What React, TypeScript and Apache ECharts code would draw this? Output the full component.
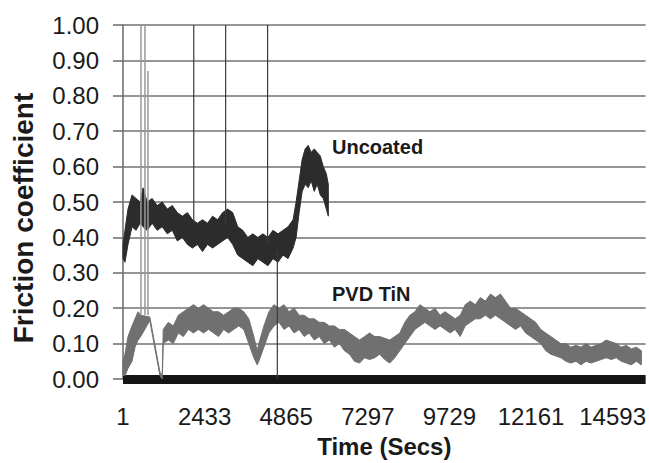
import React, { useEffect, useRef } from "react";
import * as echarts from "echarts";

// ---- axis ticks ----
const xTickLabels = [1, 2433, 4865, 7297, 9729, 12161, 14593];
const yTickLabels = ["0.00", "0.10", "0.20", "0.30", "0.40", "0.50", "0.60", "0.70", "0.80", "0.90", "1.00"];

// ---- PVD TiN (time in secs, lower / upper edge of the noisy trace) ----
const pvdT = [
  0, 60, 150, 270, 360, 450, 530, 800, 1100, 1170, 1200,
  1350, 1500, 1650, 1800, 1950, 2100, 2250, 2400, 2550, 2700, 2850, 3000, 3150, 3300, 3450, 3600, 3750, 3900,
  4000,
  4050, 4200, 4350, 4500, 4650, 4800, 4950, 5100, 5250, 5400, 5550, 5700, 5850, 6000,
  6150, 6300, 6450, 6600, 6750, 6900, 7050, 7200, 7350, 7500, 7650, 7800, 7950,
  8100, 8250, 8400, 8550, 8700, 8850, 9000, 9150, 9300, 9450, 9600, 9750, 9900,
  10050, 10200, 10350, 10500, 10650, 10800, 10950, 11100, 11250, 11400, 11550, 11700, 11850,
  12000, 12150, 12300, 12450, 12600, 12750, 12900, 13050, 13200, 13350, 13500, 13650, 13800,
  13950, 14100, 14250, 14400, 14550, 14700, 14850, 15000, 15150, 15300, 15450,
];
const pvdLow = [
  0.01, 0.01, 0.03, 0.05, 0.09, 0.11, 0.12, 0.165, 0.01, 0, 0.10,
  0.11, 0.10, 0.13, 0.12, 0.14, 0.13, 0.14, 0.13, 0.14, 0.13, 0.12, 0.14, 0.13, 0.14, 0.15, 0.14, 0.10, 0.06,
  0.04,
  0.05, 0.09, 0.13, 0.15, 0.16, 0.14, 0.15, 0.13, 0.14, 0.12, 0.13, 0.11, 0.12, 0.10,
  0.11, 0.09, 0.10, 0.08, 0.07, 0.05, 0.045, 0.06, 0.055, 0.06, 0.07, 0.055, 0.045,
  0.06, 0.08, 0.10, 0.12, 0.14, 0.15, 0.16, 0.15, 0.14, 0.15, 0.14, 0.13, 0.14,
  0.12, 0.15, 0.16, 0.17, 0.17, 0.18, 0.17, 0.18, 0.17, 0.16, 0.15, 0.14, 0.15,
  0.13, 0.12, 0.11, 0.10, 0.08, 0.07, 0.065, 0.06, 0.05, 0.045, 0.05, 0.04, 0.05,
  0.045, 0.05, 0.055, 0.06, 0.055, 0.06, 0.05, 0.045, 0.04, 0.05, 0.04,
];
const pvdHigh = [
  0.05, 0.07, 0.12, 0.15, 0.17, 0.19, 0.18, 0.175, 0.02, 0.01, 0.14,
  0.16, 0.15, 0.18, 0.19, 0.20, 0.21, 0.20, 0.21, 0.20, 0.19, 0.19, 0.18, 0.19, 0.20, 0.20, 0.19, 0.17, 0.12,
  0.08,
  0.10, 0.15, 0.19, 0.21, 0.20, 0.21, 0.19, 0.20, 0.18, 0.18, 0.17, 0.17, 0.16, 0.16,
  0.15, 0.15, 0.14, 0.14, 0.13, 0.12, 0.11, 0.12, 0.13, 0.12, 0.12, 0.115, 0.11,
  0.12, 0.13, 0.16, 0.18, 0.19, 0.21, 0.20, 0.19, 0.20, 0.18, 0.19, 0.18, 0.17,
  0.18, 0.21, 0.22, 0.21, 0.23, 0.22, 0.24, 0.23, 0.24, 0.22, 0.20, 0.20, 0.19,
  0.18, 0.17, 0.16, 0.14, 0.13, 0.12, 0.11, 0.10, 0.10, 0.09, 0.095, 0.09, 0.10,
  0.09, 0.095, 0.10, 0.11, 0.105, 0.10, 0.09, 0.095, 0.085, 0.09, 0.08,
];
const pvdSpikeT = [536, 655, 745];
const pvdSpikeFrom = [0.18, 0.18, 0.18];
const pvdSpikeTo = [1.0, 1.0, 0.87];

// ---- Uncoated ----
const uncT = [
  0, 60, 150, 270, 390, 510, 600, 720, 870,
  1020, 1170, 1320, 1470, 1620, 1770, 1920, 2070, 2220, 2370, 2520, 2670, 2820, 2970,
  3120, 3270, 3420, 3570, 3720, 3870, 4020, 4170, 4320, 4470, 4620, 4770, 4920, 5070,
  5160, 5250, 5340, 5430, 5520, 5610, 5700, 5790, 5880, 5970, 6060,
  6120,
];
const uncLow = [
  0.34, 0.33, 0.38, 0.43, 0.42, 0.44, 0.43, 0.42, 0.44,
  0.42, 0.43, 0.41, 0.42, 0.39, 0.40, 0.38, 0.37, 0.38, 0.36, 0.38, 0.37, 0.38, 0.39,
  0.40, 0.38, 0.35, 0.34, 0.33, 0.32, 0.34, 0.33, 0.32, 0.34, 0.33, 0.35, 0.34, 0.37,
  0.40, 0.47, 0.53, 0.55, 0.54, 0.56, 0.53, 0.55, 0.52, 0.51, 0.48,
  0.46,
];
const uncHigh = [
  0.38, 0.42, 0.48, 0.52, 0.51, 0.50, 0.54, 0.50, 0.51,
  0.49, 0.50, 0.48, 0.49, 0.47, 0.46, 0.47, 0.45, 0.44, 0.45, 0.44, 0.46, 0.45, 0.47,
  0.48, 0.47, 0.43, 0.42, 0.40, 0.41, 0.40, 0.41, 0.40, 0.42, 0.41, 0.42, 0.43, 0.45,
  0.50, 0.56, 0.62, 0.65, 0.66, 0.64, 0.65, 0.64, 0.63, 0.60, 0.58,
  0.55,
];
const uncSpikeT = [2110, 3060, 4310, 4600];
const uncSpikeFrom = [0.44, 0.44, 0.38, 0.36];
const uncSpikeTo = [1.0, 1.0, 1.0, 0.0];

const FONT = '"Liberation Sans", Arial, Helvetica, sans-serif';
const PVD_COLOR = "#707070";
const UNC_COLOR = "#2c2c2c";

// Noisy trace drawn as a filled band between its lower and upper edges,
// built from the data through the axes' scales (api.coord).
function bandSeries(id: string, t: number[], lo: number[], hi: number[], color: string) {
  const data = t.map((x, i) => [x, lo[i], hi[i]]);
  return {
    type: "custom",
    id,
    silent: true,
    data,
    encode: { x: 0, y: [1, 2] },
    renderItem: (params: any, api: any) => {
      if (params.dataIndex !== 0) return null;
      const top = data.map((d) => api.coord([d[0], d[2]]));
      const bottom = data.map((d) => api.coord([d[0], d[1]])).reverse();
      return {
        type: "polygon",
        shape: { points: top.concat(bottom) },
        style: { fill: color, stroke: color, lineWidth: 1, lineJoin: "round" },
      };
    },
  };
}

function spikeSeries(id: string, t: number[], from: number[], to: number[], color: string, width: number) {
  return t.map((x, i) => ({
    type: "line",
    id: id + i,
    symbol: "none",
    silent: true,
    data: [
      [x, from[i]],
      [x, to[i]],
    ],
    lineStyle: { color, width },
  }));
}

export default function App() {
  const ref = useRef<HTMLDivElement>(null);

  useEffect(() => {
    if (!ref.current) return;
    const chart = echarts.init(ref.current, null, { renderer: "svg" });
    const option: any = {
      animation: false,
      backgroundColor: "#ffffff",
      grid: { left: 123, right: 3, top: 25, bottom: 80.5, containLabel: false },
      xAxis: {
        type: "value",
        min: 1,
        max: 15576,
        interval: 2432,
        offset: 5,
        axisLine: { show: true, lineStyle: { color: "#151515", width: 9, cap: "butt" } },
        axisTick: { show: false },
        splitLine: { show: false },
        axisLabel: {
          margin: 20,
          fontSize: 24,
          fontFamily: FONT,
          color: "#1a1a1a",
          showMaxLabel: false,
          formatter: (v: number) => {
            const r = Math.round(v);
            return xTickLabels.includes(r) ? String(r) : "";
          },
        },
        name: "Time (Secs)",
        nameLocation: "middle",
        nameGap: 50,
        nameTextStyle: { fontSize: 24, fontWeight: "bold", fontFamily: FONT, color: "#1a1a1a" },
      },
      yAxis: {
        type: "value",
        min: 0,
        max: 1,
        interval: 0.1,
        axisLine: { show: true, lineStyle: { color: "#727272", width: 1.6 } },
        axisTick: { show: true, length: 10, lineStyle: { color: "#727272", width: 1.6 } },
        splitLine: { show: true, lineStyle: { color: "#727272", width: 1.6 } },
        axisLabel: {
          margin: 24,
          fontSize: 24,
          fontFamily: FONT,
          color: "#1a1a1a",
          formatter: (v: number) => yTickLabels[Math.round(v * 10)] ?? "",
        },
      },
      series: [
        bandSeries("pvd", pvdT, pvdLow, pvdHigh, PVD_COLOR),
        bandSeries("unc", uncT, uncLow, uncHigh, UNC_COLOR),
        ...spikeSeries("uncSpike", uncSpikeT, uncSpikeFrom, uncSpikeTo, "#3a3a3a", 1.2),
        ...spikeSeries("pvdSpike", pvdSpikeT, pvdSpikeFrom, pvdSpikeTo, "#9a9a9a", 1.5),
      ],
      graphic: [
        {
          type: "text",
          x: 23,
          y: 218,
          rotation: Math.PI / 2,
          style: {
            text: "Friction coefficient",
            font: `bold 28px ${FONT}`,
            fill: "#1a1a1a",
            textAlign: "center",
            textVerticalAlign: "middle",
          },
        },
        {
          type: "text",
          left: 332,
          top: 137,
          style: { text: "Uncoated", font: `bold 20px ${FONT}`, fill: "#1a1a1a" },
        },
        {
          type: "text",
          left: 332,
          top: 284,
          style: { text: "PVD TiN", font: `bold 20px ${FONT}`, fill: "#1a1a1a" },
        },
      ],
    };
    chart.setOption(option);
    return () => chart.dispose();
  }, []);

  return (
    <div
      ref={ref}
      style={{ position: "fixed", left: 0, top: 0, width: 649, height: 463, background: "#fff" }}
    />
  );
}
